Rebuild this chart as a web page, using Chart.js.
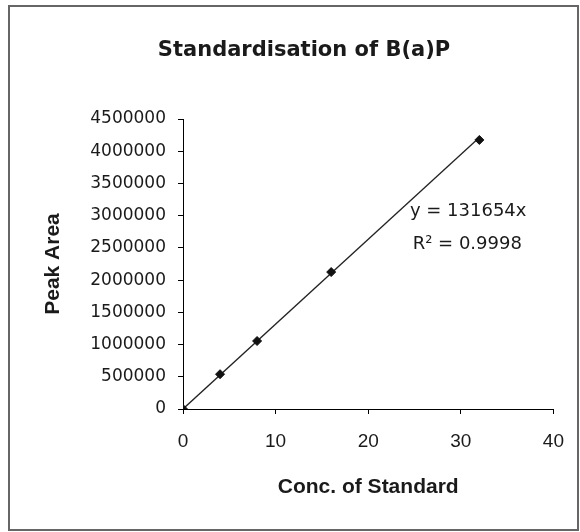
<!DOCTYPE html>
<html>
<head>
<meta charset="utf-8">
<script src="https://cdn.jsdelivr.net/npm/chart.js@4/dist/chart.umd.min.js"></script>
<style>
  html, body { margin: 0; padding: 0; background: #fff; }
  #wrap { width: 580px; height: 532px; position: relative; }
</style>
</head>
<body>
<div id="wrap"><canvas id="c"></canvas></div>
<script>
// ---- data ----
const concentrations = [0, 4, 8, 16, 32];
const peakAreas = [0, 540000, 1055000, 2125000, 4175000];
const trendX = [0, 32];
const trendSlope = 131654;
const trendY = [0, 4212928];
const xTickValues = [0, 10, 20, 30, 40];
const yTickValues = [0, 500000, 1000000, 1500000, 2000000, 2500000, 3000000, 3500000, 4000000, 4500000];
const equationLines = ['y = 131654x', 'R\u00B2 = 0.9998'];

const frame = {
  id: 'frame',
  beforeDraw(chart) {
    const ctx = chart.ctx;
    ctx.save();
    ctx.fillStyle = '#fff';
    ctx.fillRect(0, 0, chart.width, chart.height);
    ctx.strokeStyle = '#666';
    ctx.lineWidth = 2;
    ctx.strokeRect(9, 6, 569, 524);
    ctx.restore();
  }
};

const equation = {
  id: 'equation',
  afterDatasetsDraw(chart) {
    const ctx = chart.ctx;
    const xs = chart.scales.x, ys = chart.scales.y;
    ctx.save();
    ctx.font = '18px "DejaVu Sans"';
    ctx.fillStyle = '#1a1a1a';
    ctx.textAlign = 'left';
    ctx.textBaseline = 'middle';
    ctx.fillText(equationLines[0], xs.getPixelForValue(24.5), ys.getPixelForValue(3070000));
    ctx.fillText(equationLines[1], xs.getPixelForValue(24.8), ys.getPixelForValue(2560000));
    ctx.restore();
  }
};

new Chart(document.getElementById('c'), {
  type: 'scatter',
  data: {
    datasets: [
      {
        label: 'Trend',
        type: 'line',
        data: trendX.map((x, i) => ({ x: x, y: trendY[i] })),
        borderColor: '#222',
        borderWidth: 1.3,
        pointRadius: 0,
        fill: false,
        tension: 0,
        order: 2
      },
      {
        label: 'Standards',
        data: concentrations.map((x, i) => ({ x: x, y: peakAreas[i] })),
        pointStyle: 'rectRot',
        pointRadius: 4.5,
        backgroundColor: '#111',
        borderColor: '#111',
        borderWidth: 1,
        order: 1
      }
    ]
  },
  options: {
    responsive: true,
    maintainAspectRatio: false,
    animation: false,
    layout: { padding: { left: 51, right: 23, top: 0, bottom: 32 } },
    plugins: {
      legend: { display: false },
      tooltip: { enabled: false },
      title: {
        display: true,
        text: 'Standardisation of B(a)P',
        color: '#1a1a1a',
        font: { family: '"DejaVu Sans"', size: 21, weight: 'bold' },
        padding: { top: 38, bottom: 55.8 }
      }
    },
    scales: {
      x: {
        type: 'linear',
        min: 0, max: 40,
        afterBuildTicks: s => { s.ticks = xTickValues.map(v => ({ value: v })); },
        afterFit: s => { s.height = 91; },
        grid: { drawOnChartArea: false, drawTicks: true, tickLength: 5, color: '#000' },
        border: { display: true, color: '#000', width: 1 },
        ticks: {
          color: '#1a1a1a',
          padding: 16,
          font: { family: '"Liberation Sans"', size: 19 },
          callback: v => String(v)
        },
        title: {
          display: true,
          text: 'Conc. of Standard',
          color: '#1a1a1a',
          font: { family: '"Liberation Sans"', size: 21, weight: 'bold' },
          padding: { top: 4, bottom: 0 }
        }
      },
      y: {
        type: 'linear',
        min: 0, max: 4500000,
        afterBuildTicks: s => { s.ticks = yTickValues.map(v => ({ value: v })); },
        afterFit: s => { s.width = 132; },
        grid: { drawOnChartArea: false, drawTicks: true, tickLength: 5, color: '#000' },
        border: { display: true, color: '#000', width: 1 },
        ticks: {
          color: '#1a1a1a',
          padding: 12,
          font: { family: '"DejaVu Sans"', size: 17 },
          callback: v => String(v)
        },
        title: {
          display: true,
          text: 'Peak Area',
          color: '#1a1a1a',
          font: { family: '"Liberation Sans"', size: 21, weight: 'bold' },
          padding: { top: -10, bottom: 0 }
        }
      }
    }
  },
  plugins: [frame, equation]
});
</script>
</body>
</html>
